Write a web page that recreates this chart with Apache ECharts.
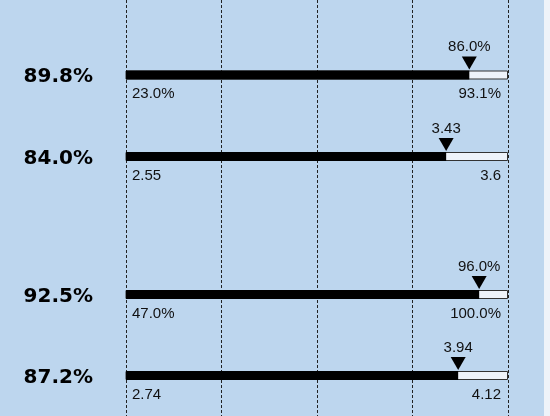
<!DOCTYPE html>
<html>
<head>
<meta charset="utf-8">
<script src="https://cdn.jsdelivr.net/npm/echarts@6/dist/echarts.min.js"></script>
<style>
  html, body { margin: 0; padding: 0; background: #eef3f9; }
  #main { width: 550px; height: 416px; }
</style>
</head>
<body>
<div id="main"></div>
<script>
// 数据
var scores = [89.8, 84.0, 92.5, 87.2];
var minVals = [23.0, 2.55, 47.0, 2.74];
var maxVals = [93.1, 3.6, 100.0, 4.12];
var actualVals = [86.0, 3.43, 96.0, 3.94];
var isPercent = [true, false, true, false];

// 每行的中心位置 (像素)
var rowCenters = [75, 156.5, 294.5, 375.5];
var barH = 9;

function fmt(v, pct) {
  return pct ? v.toFixed(1) + '%' : String(v);
}

var smallText = { fontFamily: 'Liberation Sans, Arial, sans-serif', fontSize: 15, color: '#111' };

var grids = [];
var xAxes = [];
var yAxes = [];
var series = [];

// 背景虚线网格
grids.push({ left: 126, right: 42, top: 0, bottom: 0 });
xAxes.push({
  gridIndex: 0, type: 'value', min: 0, max: 4, interval: 1,
  axisLine: { show: false }, axisTick: { show: false }, axisLabel: { show: false },
  splitLine: { show: true, lineStyle: { color: '#222', width: 1, type: [3, 2] } }
});
yAxes.push({ gridIndex: 0, type: 'value', show: false });

for (var i = 0; i < scores.length; i++) {
  var g = i + 1;
  var pct = isPercent[i];
  grids.push({ left: 126, right: 42, top: rowCenters[i] - barH / 2, height: barH });
  xAxes.push({ gridIndex: g, type: 'value', min: minVals[i], max: maxVals[i], show: false });
  yAxes.push({
    gridIndex: g, type: 'category', data: [fmt(scores[i], true)],
    axisLine: { show: false }, axisTick: { show: false }, splitLine: { show: false },
    axisLabel: {
      margin: 33, fontFamily: 'DejaVu Sans', fontWeight: 'bold', fontSize: 20,
      color: '#000', verticalAlign: 'top', lineHeight: 4
    }
  });

  // 底框
  series.push({
    type: 'bar', xAxisIndex: g, yAxisIndex: g, barWidth: barH, silent: true,
    data: [maxVals[i]],
    itemStyle: { color: '#eef3fa', borderColor: '#333', borderWidth: 1 },
    z: 2
  });
  // 实际值
  series.push({
    type: 'bar', xAxisIndex: g, yAxisIndex: g, barWidth: barH, barGap: '-100%', silent: true,
    data: [actualVals[i]],
    itemStyle: { color: '#000' },
    z: 3
  });
  // 三角标记
  series.push({
    type: 'scatter', xAxisIndex: g, yAxisIndex: g, silent: true,
    symbol: 'path://M0,0 L14,0 L7,13 Z', symbolSize: [15, 13], symbolOffset: [0, -12],
    itemStyle: { color: '#000', opacity: 1 },
    data: [[actualVals[i], 0]],
    label: Object.assign({
      show: true, position: 'top', distance: 2,
      formatter: (function (p) { return function (d) { return fmt(d.value[0], p); }; })(pct)
    }, smallText),
    z: 4
  });
  // 最小/最大标签
  series.push({
    type: 'scatter', xAxisIndex: g, yAxisIndex: g, silent: true,
    symbolSize: 1, itemStyle: { color: 'transparent', opacity: 1 },
    data: [
      { value: [minVals[i], 0], label: { align: 'left', offset: [6, 1] } },
      { value: [maxVals[i], 0], label: { align: 'right', offset: [-7, 1] } }
    ],
    label: Object.assign({
      show: true, position: 'bottom', distance: 10,
      formatter: (function (p) { return function (d) { return fmt(d.value[0], p); }; })(pct)
    }, smallText),
    z: 4
  });
}

var myChart = echarts.init(document.getElementById('main'));
myChart.setOption({
  backgroundColor: '#bdd6ee',
  animation: false,
  graphic: [{
    type: 'rect', right: 0, top: 0, silent: true,
    shape: { width: 6, height: 416 },
    style: { fill: '#eef3f9' }
  }],
  grid: grids,
  xAxis: xAxes,
  yAxis: yAxes,
  series: series
});
</script>
</body>
</html>
